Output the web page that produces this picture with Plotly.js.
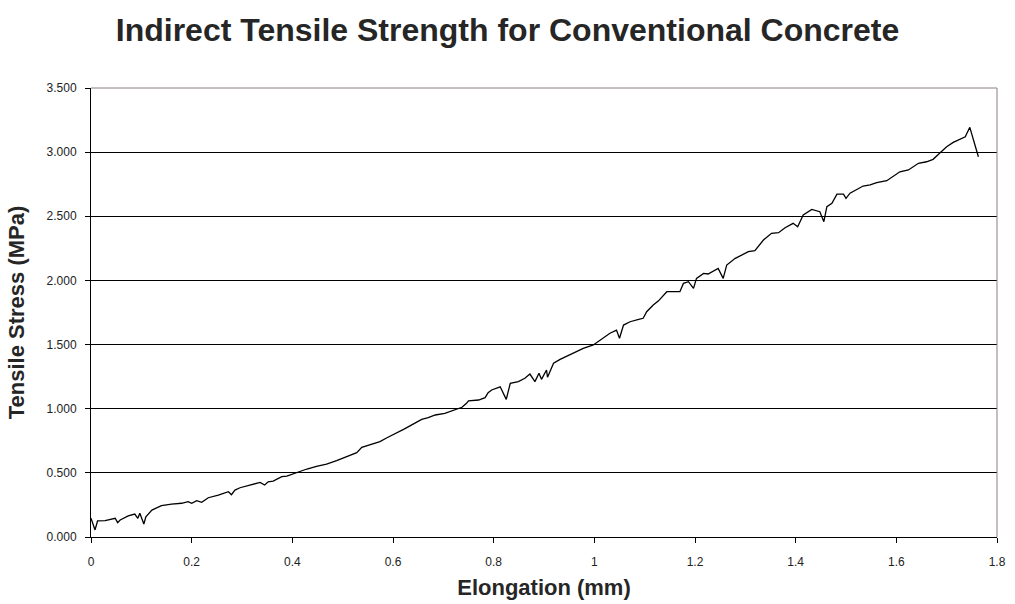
<!DOCTYPE html>
<html>
<head>
<meta charset="utf-8">
<script src="https://cdn.plot.ly/plotly-3.0.1.min.js"></script>
<style>html,body{margin:0;padding:0;background:#fff;}#chart{width:1015px;height:604px;}</style>
</head>
<body>
<div id="chart"></div>
<script>
// Elongation (mm)
const elongation = [0, 0.008, 0.013, 0.028, 0.048, 0.053, 0.058, 0.074, 0.087, 0.093, 0.097, 0.105, 0.109, 0.121, 0.140, 0.160, 0.180, 0.193, 0.200, 0.210, 0.220, 0.233, 0.253, 0.273, 0.279, 0.286, 0.296, 0.316, 0.336, 0.345, 0.352, 0.362, 0.379, 0.389, 0.409, 0.429, 0.448, 0.468, 0.488, 0.508, 0.528, 0.538, 0.561, 0.574, 0.588, 0.607, 0.621, 0.640, 0.657, 0.670, 0.684, 0.703, 0.723, 0.737, 0.746, 0.750, 0.770, 0.783, 0.789, 0.796, 0.813, 0.825, 0.833, 0.849, 0.862, 0.872, 0.882, 0.890, 0.895, 0.905, 0.907, 0.919, 0.932, 0.955, 0.978, 0.998, 1.018, 1.031, 1.044, 1.050, 1.058, 1.071, 1.088, 1.097, 1.104, 1.117, 1.127, 1.144, 1.170, 1.177, 1.187, 1.197, 1.203, 1.217, 1.226, 1.240, 1.246, 1.256, 1.263, 1.280, 1.293, 1.306, 1.319, 1.336, 1.352, 1.366, 1.379, 1.395, 1.404, 1.415, 1.432, 1.448, 1.456, 1.462, 1.472, 1.482, 1.495, 1.500, 1.508, 1.521, 1.534, 1.548, 1.561, 1.581, 1.607, 1.624, 1.644, 1.660, 1.673, 1.687, 1.700, 1.713, 1.727, 1.737, 1.740, 1.746, 1.763];
// Tensile Stress (MPa)
const stress = [0.146, 0.055, 0.125, 0.127, 0.146, 0.112, 0.133, 0.164, 0.179, 0.146, 0.185, 0.101, 0.158, 0.210, 0.244, 0.257, 0.263, 0.275, 0.262, 0.283, 0.270, 0.306, 0.327, 0.353, 0.330, 0.366, 0.384, 0.405, 0.426, 0.405, 0.430, 0.436, 0.470, 0.475, 0.504, 0.530, 0.551, 0.569, 0.595, 0.626, 0.657, 0.699, 0.730, 0.743, 0.774, 0.808, 0.839, 0.880, 0.917, 0.930, 0.951, 0.964, 0.990, 1.011, 1.042, 1.062, 1.068, 1.086, 1.125, 1.146, 1.171, 1.073, 1.198, 1.211, 1.237, 1.270, 1.211, 1.276, 1.229, 1.302, 1.245, 1.354, 1.385, 1.430, 1.471, 1.497, 1.549, 1.588, 1.613, 1.549, 1.652, 1.678, 1.697, 1.705, 1.756, 1.808, 1.839, 1.912, 1.912, 1.977, 1.990, 1.938, 2.016, 2.055, 2.050, 2.081, 2.094, 2.016, 2.120, 2.172, 2.198, 2.224, 2.232, 2.315, 2.367, 2.372, 2.411, 2.445, 2.419, 2.510, 2.554, 2.536, 2.458, 2.575, 2.601, 2.673, 2.673, 2.640, 2.680, 2.710, 2.736, 2.744, 2.762, 2.777, 2.847, 2.861, 2.913, 2.925, 2.944, 2.995, 3.042, 3.076, 3.100, 3.120, 3.146, 3.193, 2.964];

const chartTitle = 'Indirect Tensile Strength for Conventional Concrete';
const xTitle = 'Elongation (mm)';
const yTitle = 'Tensile Stress (MPa)';

const trace = {
  x: elongation, y: stress, type: 'scatter', mode: 'lines',
  line: {color: '#000', width: 1.3}, hoverinfo: 'skip'
};

const layout = {
  width: 1015, height: 604,
  margin: {l: 91, r: 18, t: 88, b: 67},
  paper_bgcolor: '#fff', plot_bgcolor: '#fff',
  showlegend: false,
  font: {family: 'Liberation Sans, Arial, sans-serif', color: '#000'},
  title: {text: '<b>' + chartTitle + '</b>', x: 0.5, xref: 'container', xanchor: 'center',
          y: 1 - 30 / 604, yref: 'container', yanchor: 'middle', font: {size: 32, color: '#262626'}},
  xaxis: {
    range: [0, 1.8], dtick: 0.2, tick0: 0, showgrid: false, zeroline: false,
    showline: true, linecolor: '#000', linewidth: 1,
    ticks: 'outside', ticklen: 5, tickcolor: '#000', ticklabelstandoff: 9,
    tickfont: {size: 12, color: '#222'},
    title: {text: '<b>' + xTitle + '</b>', font: {size: 22, color: '#262626'}, standoff: 11}
  },
  yaxis: {
    range: [0, 3.5], dtick: 0.5, tick0: 0, tickformat: '.3f',
    showgrid: true, gridcolor: '#000', gridwidth: 1, zeroline: false,
    showline: true, linecolor: '#000', linewidth: 1,
    ticks: 'outside', ticklen: 5, tickcolor: '#000', ticklabelstandoff: 6,
    tickfont: {size: 12, color: '#222'},
    title: {text: '<b>' + yTitle + '</b>', font: {size: 22, color: '#262626'}, standoff: 15}
  },
  shapes: [
    {type: 'line', xref: 'paper', yref: 'paper', x0: 0, x1: 1, y0: 1, y1: 1, line: {color: '#8c7f7f', width: 1}},
    {type: 'line', xref: 'paper', yref: 'paper', x0: 1, x1: 1, y0: 0, y1: 1, line: {color: '#8c7f7f', width: 1}}
  ]
};

Plotly.newPlot('chart', [trace], layout, {staticPlot: true, displayModeBar: false});
</script>
</body>
</html>
